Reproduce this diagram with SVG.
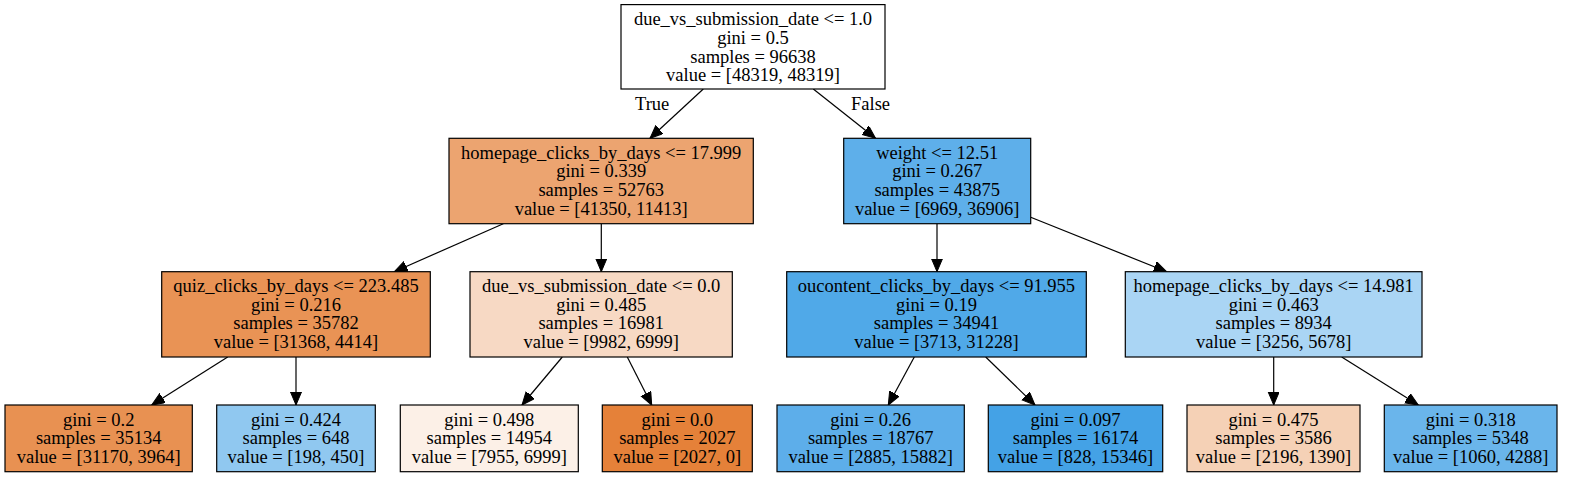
<svg xmlns="http://www.w3.org/2000/svg" width="1577" height="477" viewBox="0 0 1577 477">
<style>
.box{stroke:#000;stroke-width:1.2}
text{font-family:"Liberation Serif","Times New Roman",serif;font-size:18.5px;fill:#000;text-anchor:middle}
.lbl{text-anchor:start}
.edge{stroke:#000;stroke-width:1.2;fill:none;marker-end:url(#arr)}
</style>
<defs>
<marker id="arr" markerUnits="userSpaceOnUse" markerWidth="14" markerHeight="12" refX="13" refY="5.5" orient="auto" viewBox="0 0 14 12">
<path d="M0,0 L13,5.5 L0,11 z" fill="#000" stroke="#000" stroke-width="1"/>
</marker>
</defs>
<rect width="1577" height="477" fill="#fff"/>
<g id="connectors">
<line class="edge" x1="703.3" y1="89" x2="650" y2="138.3"/>
<line class="edge" x1="813.3" y1="89" x2="875.5" y2="138.3"/>
<line class="edge" x1="503.3" y1="223.7" x2="394.3" y2="271.7"/>
<line class="edge" x1="601.3" y1="223.7" x2="601.3" y2="271.7"/>
<line class="edge" x1="227.7" y1="357" x2="151.7" y2="405"/>
<line class="edge" x1="296" y1="357" x2="296" y2="405"/>
<line class="edge" x1="562.3" y1="357" x2="522" y2="405"/>
<line class="edge" x1="627.3" y1="357" x2="651.7" y2="405"/>
<line class="edge" x1="937" y1="223.7" x2="937" y2="271.7"/>
<line class="edge" x1="1030.7" y1="217.3" x2="1166.7" y2="271.7"/>
<line class="edge" x1="914.3" y1="357" x2="888.3" y2="405"/>
<line class="edge" x1="985.7" y1="357" x2="1035" y2="405"/>
<line class="edge" x1="1273.7" y1="357" x2="1273.7" y2="405"/>
<line class="edge" x1="1341.7" y1="357" x2="1418.3" y2="405"/>
<text class="lbl" x="635" y="110">True</text>
<text class="lbl" x="851" y="110">False</text>
</g>
<g id="n0">
<rect class="box" x="621" y="4.6" width="264" height="84.4" fill="#ffffff"/>
<text x="753" y="25.3">due_vs_submission_date &lt;= 1.0</text>
<text x="753" y="43.9">gini = 0.5</text>
<text x="753" y="62.5">samples = 96638</text>
<text x="753" y="81.1">value = [48319, 48319]</text>
</g>
<g id="n1">
<rect class="box" x="449" y="138.3" width="304.3" height="85.4" fill="#eca470"/>
<text x="601.2" y="158.8">homepage_clicks_by_days &lt;= 17.999</text>
<text x="601.2" y="177.4">gini = 0.339</text>
<text x="601.2" y="196">samples = 52763</text>
<text x="601.2" y="214.6">value = [41350, 11413]</text>
</g>
<g id="n2">
<rect class="box" x="843.7" y="138.3" width="187" height="85.4" fill="#5eafea"/>
<text x="937.2" y="158.8">weight &lt;= 12.51</text>
<text x="937.2" y="177.4">gini = 0.267</text>
<text x="937.2" y="196">samples = 43875</text>
<text x="937.2" y="214.6">value = [6969, 36906]</text>
</g>
<g id="n3">
<rect class="box" x="161.7" y="271.7" width="268.6" height="85.3" fill="#e99355"/>
<text x="296" y="292.2">quiz_clicks_by_days &lt;= 223.485</text>
<text x="296" y="310.8">gini = 0.216</text>
<text x="296" y="329.4">samples = 35782</text>
<text x="296" y="348">value = [31368, 4414]</text>
</g>
<g id="n4">
<rect class="box" x="470" y="271.7" width="262.3" height="85.3" fill="#f7d9c4"/>
<text x="601.2" y="292.2">due_vs_submission_date &lt;= 0.0</text>
<text x="601.2" y="310.8">gini = 0.485</text>
<text x="601.2" y="329.4">samples = 16981</text>
<text x="601.2" y="348">value = [9982, 6999]</text>
</g>
<g id="n5">
<rect class="box" x="786.7" y="271.7" width="299.6" height="85.3" fill="#50a9e8"/>
<text x="936.5" y="292.2">oucontent_clicks_by_days &lt;= 91.955</text>
<text x="936.5" y="310.8">gini = 0.19</text>
<text x="936.5" y="329.4">samples = 34941</text>
<text x="936.5" y="348">value = [3713, 31228]</text>
</g>
<g id="n6">
<rect class="box" x="1125.3" y="271.7" width="296.7" height="85.3" fill="#aad5f4"/>
<text x="1273.7" y="292.2">homepage_clicks_by_days &lt;= 14.981</text>
<text x="1273.7" y="310.8">gini = 0.463</text>
<text x="1273.7" y="329.4">samples = 8934</text>
<text x="1273.7" y="348">value = [3256, 5678]</text>
</g>
<g id="n7">
<rect class="box" x="5" y="405" width="187.3" height="66.7" fill="#e89152"/>
<text x="98.7" y="425.5">gini = 0.2</text>
<text x="98.7" y="444.1">samples = 35134</text>
<text x="98.7" y="462.7">value = [31170, 3964]</text>
</g>
<g id="n8">
<rect class="box" x="216.7" y="405" width="158.6" height="66.7" fill="#90c8f0"/>
<text x="296" y="425.5">gini = 0.424</text>
<text x="296" y="444.1">samples = 648</text>
<text x="296" y="462.7">value = [198, 450]</text>
</g>
<g id="n9">
<rect class="box" x="400.3" y="405" width="178" height="66.7" fill="#fcf0e7"/>
<text x="489.3" y="425.5">gini = 0.498</text>
<text x="489.3" y="444.1">samples = 14954</text>
<text x="489.3" y="462.7">value = [7955, 6999]</text>
</g>
<g id="n10">
<rect class="box" x="602.3" y="405" width="150" height="66.7" fill="#e58139"/>
<text x="677.3" y="425.5">gini = 0.0</text>
<text x="677.3" y="444.1">samples = 2027</text>
<text x="677.3" y="462.7">value = [2027, 0]</text>
</g>
<g id="n11">
<rect class="box" x="777" y="405" width="187.3" height="66.7" fill="#5daeea"/>
<text x="870.7" y="425.5">gini = 0.26</text>
<text x="870.7" y="444.1">samples = 18767</text>
<text x="870.7" y="462.7">value = [2885, 15882]</text>
</g>
<g id="n12">
<rect class="box" x="988.3" y="405" width="174.4" height="66.7" fill="#44a2e6"/>
<text x="1075.5" y="425.5">gini = 0.097</text>
<text x="1075.5" y="444.1">samples = 16174</text>
<text x="1075.5" y="462.7">value = [828, 15346]</text>
</g>
<g id="n13">
<rect class="box" x="1187" y="405" width="173" height="66.7" fill="#f5d1b6"/>
<text x="1273.5" y="425.5">gini = 0.475</text>
<text x="1273.5" y="444.1">samples = 3586</text>
<text x="1273.5" y="462.7">value = [2196, 1390]</text>
</g>
<g id="n14">
<rect class="box" x="1384.3" y="405" width="172.7" height="66.7" fill="#6ab5eb"/>
<text x="1470.7" y="425.5">gini = 0.318</text>
<text x="1470.7" y="444.1">samples = 5348</text>
<text x="1470.7" y="462.7">value = [1060, 4288]</text>
</g>
</svg>
